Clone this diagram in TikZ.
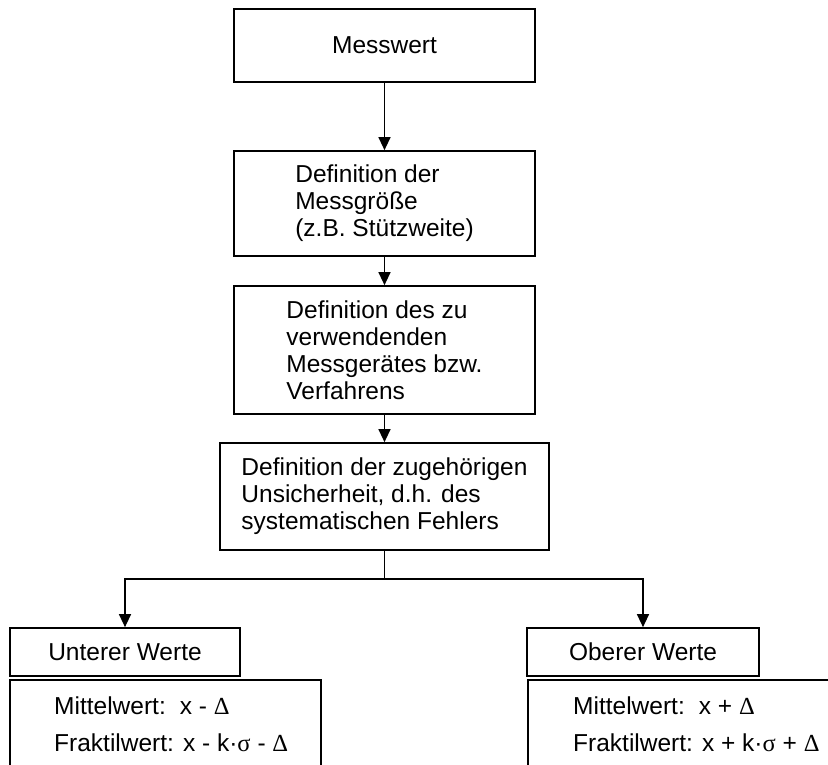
\documentclass[tikz,border=0pt]{standalone}
\usepackage{fontspec}
\setmainfont{Liberation Sans}
\newfontfamily\grk{Liberation Serif}
\usetikzlibrary{arrows.meta}
\begin{document}
\begin{tikzpicture}[x=1pt,y=-1pt,
  box/.style={draw, line width=1.7pt, inner sep=0pt, align=left, font=\fontsize{24.5}{27}\selectfont},
  small/.style={inner sep=0pt, anchor=base west, font=\fontsize{24.5}{27}\selectfont},
  arr/.style={line width=1.3pt, -{Triangle[width=12pt,length=13pt]}},
  frame/.style={line width=1.7pt}]
\useasboundingbox (0,0) rectangle (828,765);
\begin{scope}
\clip (0,0) rectangle (828,765);
\node[box, minimum width=301pt, minimum height=73pt] (m) at (384.5,45.5) {Messwert};
\node[box, minimum width=301pt, minimum height=105pt] (d2) at (384.5,203.5) {Definition der\\Messgröße\\(z.B. Stützweite)};
\node[box, minimum width=301pt, minimum height=128pt] (d3) at (384.5,350) {Definition des zu\\verwendenden\\Messgerätes bzw.\\Verfahrens};
\node[box, minimum width=329pt, minimum height=107pt] (d4) at (384.5,496.5) {Definition der zugehörigen\\Unsicherheit, d.h. des\\systematischen Fehlers};
\node[box, minimum width=230pt, minimum height=48pt] (u) at (125,652) {Unterer Werte};
\node[box, minimum width=232pt, minimum height=48pt] (o) at (643,652) {Oberer Werte};
\coordinate (j) at (384.5,579);
\draw[arr] (m) -- (d2);
\draw[arr] (d2) -- (d3);
\draw[arr] (d3) -- (d4);
\draw[line width=1.3pt] (d4) -- (j);
\draw[arr] (j) -| (u);
\draw[arr] (j) -| (o);
\draw[frame] (10,680) rectangle (321,820);
\draw[frame] (528,680) rectangle (900,820);
\node[small] (ul1) at (54,714) {Mittelwert:\hspace{14pt}x - {\grk Δ}};
\node[small] (ul2) at (54,751) {Fraktilwert: x - k·{\grk σ} - {\grk Δ}};
\node[small] (ol1) at (573,714) {Mittelwert:\hspace{14pt}x + {\grk Δ}};
\node[small] (ol2) at (573,751) {Fraktilwert: x + k·{\grk σ} + {\grk Δ}};
\end{scope}
\end{tikzpicture}
\end{document}
